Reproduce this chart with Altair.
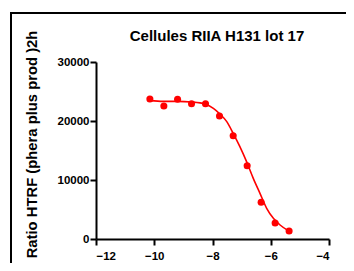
import altair as alt
import pandas as pd

# measured data points (log concentration, HTRF ratio)
log_conc = [-10.15, -9.67, -9.2, -8.72, -8.24, -7.76, -7.29, -6.81, -6.33, -5.85, -5.37]
ratio = [23730, 22540, 23680, 22930, 22930, 20850, 17510, 12420, 6220, 2710, 1360]

# fitted curve
curve_x = [-10.15, -9.69, -9.2, -8.72, -8.26, -7.97, -7.77, -7.51, -7.29, -7.06,
           -6.83, -6.6, -6.37, -6.14, -5.91, -5.68, -5.4]
curve_y = [23450, 23330, 23330, 23220, 22880, 22150, 21300, 19890, 17910, 15650,
           13110, 10280, 7740, 5200, 3500, 2370, 1410]

x_ticks = [-12, -10, -8, -6, -4]
y_ticks = [0, 10000, 20000, 30000]
title_text = ["Cellules RIIA H131 lot 17"]

FONT = "Liberation Sans"
RED = "#ff0000"

pts = pd.DataFrame({"x": log_conc, "y": ratio})
crv = pd.DataFrame({"x": curve_x, "y": curve_y})

xs = alt.Scale(domain=[-12, -4], nice=False, zero=False)
ys = alt.Scale(domain=[0, 30000], nice=False)

xax = alt.Axis(values=x_ticks, title=None, grid=False, domainColor="black", domainWidth=2,
               tickColor="black", tickWidth=2, tickSize=6, labelFont=FONT, labelFontSize=11.5,
               labelFontWeight="bold", labelColor="black", labelPadding=5, format="d")
yax = alt.Axis(values=y_ticks, title="Ratio HTRF (phera plus prod )2h", grid=False,
               domainColor="black", domainWidth=2, tickColor="black", tickWidth=2, tickSize=6,
               labelFont=FONT, labelFontSize=11.5, labelFontWeight="bold", labelColor="black",
               labelPadding=1, format="d", titleFont=FONT, titleFontSize=14.8,
               titleFontWeight="bold", titleColor="black", titleAngle=270,
               titleBaseline="alphabetic", titleAlign="center", titleX=-60, titleY=82)

line = alt.Chart(crv).mark_line(color=RED, strokeWidth=1.6, interpolate="monotone").encode(
    x=alt.X("x:Q", scale=xs, axis=xax),
    y=alt.Y("y:Q", scale=ys, axis=yax),
)
points = alt.Chart(pts).mark_circle(color=RED, opacity=1, size=50).encode(
    x=alt.X("x:Q", scale=xs),
    y=alt.Y("y:Q", scale=ys),
)
frame = alt.Chart(pd.DataFrame({"a": [0]})).mark_rect(
    fill=None, stroke="black", strokeWidth=2
).encode(x=alt.value(-85), x2=alt.value(300), y=alt.value(-49), y2=alt.value(300))

title = alt.Chart(pd.DataFrame({"t": title_text})).mark_text(
    font=FONT, fontSize=15, fontWeight="bold", color="black", align="center",
    baseline="alphabetic"
).encode(text="t:N", x=alt.value(121), y=alt.value(-21))

chart = (frame + line + points + title).properties(
    width=233,
    height=177,
    autosize=alt.AutoSizeParams(type="none"),
    padding={"left": 88, "top": 54, "right": 17, "bottom": 24},
).configure_view(stroke=None)

chart.save("out.html", embed_options={"renderer": "svg", "actions": False})
